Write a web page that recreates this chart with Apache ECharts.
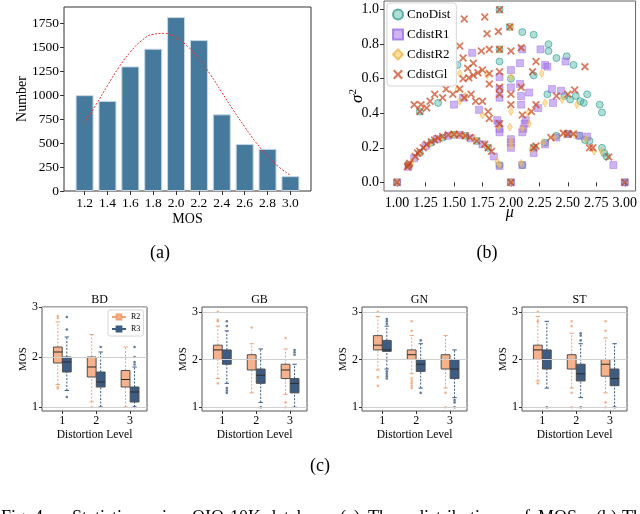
<!DOCTYPE html>
<html>
<head>
<meta charset="utf-8">
<script src="https://cdn.jsdelivr.net/npm/echarts@6/dist/echarts.min.js"></script>
<style>
html, body { margin: 0; padding: 0; background: #fff; }
#chart { width: 640px; height: 514px; }
</style>
</head>
<body>
<div id="chart"></div>
<script>
// (a) MOS histogram
const mosBins = [ 1.2, 1.4, 1.6, 1.8, 2.0, 2.2, 2.4, 2.6, 2.8, 3.0 ];
const mosCounts = [ 1000, 940, 1300, 1485, 1815, 1575, 800, 490, 440, 155 ];
const fitX = [ 1.2, 1.3, 1.4, 1.5, 1.6, 1.7, 1.8, 1.9, 2.0, 2.1, 2.2, 2.3, 2.4, 2.5, 2.6, 2.7, 2.8, 2.9, 3.0 ];
const fitY = [ 715, 900, 1100, 1290, 1450, 1570, 1635, 1645, 1600, 1510, 1380, 1215, 1030, 845, 670, 505, 365, 250, 165 ];
const countTicks = [ 0, 250, 500, 750, 1000, 1250, 1500, 1750 ];

// (b) mean / variance scatter
const muTicks = [ 1, 1.25, 1.5, 1.75, 2, 2.25, 2.5, 2.75, 3 ];
const varTicks = [ 0, 0.2, 0.4, 0.6, 0.8, 1.0 ];
const cnoDist = [
	[ 1.0, 0.0 ], [ 1.1, 0.1 ], [ 1.2, 0.17 ], [ 1.3, 0.23 ], [ 1.4, 0.26 ], [ 1.5, 0.275 ], [ 1.6, 0.27 ],
	[ 1.7, 0.24 ], [ 1.8, 0.2 ], [ 1.9, 0.1 ], [ 2.0, 0.0 ], [ 2.1, 0.1 ], [ 2.2, 0.2 ], [ 2.3, 0.23 ],
	[ 2.4, 0.27 ], [ 2.5, 0.28 ], [ 2.6, 0.27 ], [ 2.65, 0.245 ], [ 2.69, 0.24 ], [ 2.8, 0.2 ], [ 2.82, 0.17 ],
	[ 2.84, 0.15 ], [ 3.0, 0.0 ], [ 1.2, 0.41 ], [ 1.36, 0.46 ], [ 1.45, 0.69 ], [ 1.53, 0.68 ], [ 1.9, 1.0 ],
	[ 1.99, 0.9 ], [ 2.1, 0.87 ], [ 2.2, 0.855 ], [ 1.9, 0.77 ], [ 1.9, 0.7 ], [ 2.33, 0.8 ], [ 2.33, 0.76 ],
	[ 2.4, 0.72 ], [ 2.49, 0.73 ], [ 2.55, 0.68 ], [ 2.32, 0.51 ], [ 2.47, 0.5 ], [ 2.52, 0.48 ], [ 2.57, 0.5 ],
	[ 2.61, 0.47 ], [ 2.64, 0.46 ], [ 2.67, 0.51 ], [ 2.78, 0.45 ], [ 2.8, 0.405 ], [ 2.0, 0.6 ], [ 2.2, 0.62 ]
];
const cdistR1 = [
	[ 1.0, 0.0 ], [ 1.1, 0.09 ], [ 1.15, 0.14 ], [ 1.25, 0.21 ], [ 1.35, 0.25 ], [ 1.45, 0.27 ], [ 1.55, 0.275 ],
	[ 1.65, 0.255 ], [ 1.75, 0.22 ], [ 1.85, 0.15 ], [ 1.9, 0.095 ], [ 1.9, 0.29 ], [ 1.9, 0.31 ], [ 1.89, 0.34 ],
	[ 1.88, 0.36 ], [ 2.0, 0.0 ], [ 2.0, 0.2 ], [ 2.0, 0.23 ], [ 2.0, 0.25 ], [ 2.1, 0.1 ], [ 2.1, 0.29 ],
	[ 2.11, 0.31 ], [ 2.12, 0.34 ], [ 2.13, 0.36 ], [ 2.2, 0.17 ], [ 2.3, 0.22 ], [ 2.4, 0.26 ], [ 2.5, 0.28 ],
	[ 2.6, 0.27 ], [ 2.67, 0.265 ], [ 2.9, 0.1 ], [ 3.0, 0.0 ], [ 1.5, 0.45 ], [ 1.58, 0.49 ], [ 1.72, 0.42 ],
	[ 1.9, 0.49 ], [ 1.9, 0.54 ], [ 2.0, 0.55 ], [ 2.0, 0.65 ], [ 2.08, 0.57 ], [ 2.09, 0.5 ], [ 2.09, 0.45 ],
	[ 2.16, 0.52 ], [ 2.24, 0.43 ], [ 2.36, 0.54 ], [ 2.37, 0.46 ], [ 2.44, 0.53 ], [ 2.08, 0.69 ], [ 2.26, 0.77 ],
	[ 2.3, 0.68 ], [ 2.32, 0.67 ], [ 2.48, 0.7 ], [ 2.1, 0.77 ], [ 1.66, 0.75 ], [ 1.9, 0.61 ]
];
const cdistR2 = [
	[ 1.0, 0.0 ], [ 1.1, 0.1 ], [ 1.13, 0.12 ], [ 1.2, 0.17 ], [ 1.28, 0.22 ], [ 1.38, 0.255 ], [ 1.48, 0.275 ],
	[ 1.52, 0.278 ], [ 1.58, 0.27 ], [ 1.68, 0.25 ], [ 1.78, 0.21 ], [ 1.88, 0.12 ], [ 1.9, 0.1 ], [ 1.89, 0.32 ],
	[ 2.0, 0.0 ], [ 2.0, 0.21 ], [ 2.0, 0.24 ], [ 1.99, 0.32 ], [ 2.0, 0.41 ], [ 2.0, 0.61 ], [ 2.0, 0.9 ],
	[ 2.09, 0.11 ], [ 2.1, 0.31 ], [ 2.16, 0.34 ], [ 2.18, 0.19 ], [ 2.28, 0.23 ], [ 2.38, 0.26 ], [ 2.47, 0.278 ],
	[ 2.56, 0.276 ], [ 2.66, 0.25 ], [ 2.73, 0.18 ], [ 2.8, 0.18 ], [ 1.55, 0.63 ], [ 1.53, 0.54 ], [ 1.55, 0.47 ],
	[ 1.75, 0.39 ], [ 1.9, 0.77 ], [ 2.27, 0.63 ], [ 2.45, 0.48 ], [ 2.58, 0.45 ], [ 2.3, 0.46 ], [ 1.79, 0.62 ],
	[ 1.6, 0.5 ], [ 2.15, 0.4 ]
];
const cdistGl = [
	[ 1.0, 0.0 ], [ 1.09, 0.09 ], [ 1.1, 0.1 ], [ 1.11, 0.11 ], [ 1.16, 0.15 ], [ 1.18, 0.17 ], [ 1.2, 0.18 ],
	[ 1.23, 0.2 ], [ 1.26, 0.22 ], [ 1.3, 0.235 ], [ 1.33, 0.245 ], [ 1.36, 0.255 ], [ 1.4, 0.265 ], [ 1.45, 0.275 ],
	[ 1.5, 0.278 ], [ 1.55, 0.275 ], [ 1.6, 0.27 ], [ 1.64, 0.26 ], [ 1.7, 0.24 ], [ 1.77, 0.22 ], [ 1.8, 0.2 ],
	[ 1.83, 0.18 ], [ 2.0, 0.0 ], [ 2.2, 0.2 ], [ 2.22, 0.21 ], [ 2.35, 0.26 ], [ 2.46, 0.285 ], [ 2.5, 0.28 ],
	[ 2.55, 0.28 ], [ 2.69, 0.2 ], [ 2.72, 0.2 ], [ 2.86, 0.147 ], [ 3.0, 0.0 ],
	[ 1.15, 0.45 ], [ 1.2, 0.41 ], [ 1.21, 0.45 ], [ 1.26, 0.43 ], [ 1.29, 0.47 ], [ 1.33, 0.51 ], [ 1.4, 0.49 ],
	[ 1.43, 0.54 ], [ 1.49, 0.51 ], [ 1.55, 0.54 ], [ 1.59, 0.49 ], [ 1.65, 0.51 ], [ 1.69, 0.47 ], [ 1.75, 0.47 ],
	[ 1.8, 0.41 ], [ 1.81, 0.37 ], [ 1.9, 0.51 ], [ 1.9, 0.34 ], [ 2.0, 0.51 ], [ 2.0, 0.45 ], [ 2.1, 0.39 ],
	[ 2.18, 0.41 ], [ 2.22, 0.45 ], [ 2.4, 0.5 ], [ 2.5, 0.51 ], [ 2.56, 0.535 ],
	[ 1.59, 0.946 ], [ 1.77, 0.957 ], [ 1.9, 1.0 ], [ 1.79, 0.86 ], [ 1.89, 0.874 ], [ 1.99, 0.9 ], [ 1.55, 0.79 ],
	[ 1.49, 0.74 ], [ 1.39, 0.72 ], [ 1.58, 0.72 ], [ 1.67, 0.69 ], [ 1.74, 0.76 ], [ 1.81, 0.77 ], [ 1.9, 0.77 ],
	[ 2.0, 0.76 ], [ 2.09, 0.78 ], [ 1.62, 0.66 ], [ 1.58, 0.6 ], [ 1.63, 0.605 ], [ 1.67, 0.62 ], [ 1.71, 0.635 ],
	[ 1.75, 0.65 ], [ 1.81, 0.63 ], [ 1.81, 0.57 ], [ 1.9, 0.64 ], [ 1.9, 0.55 ], [ 2.09, 0.55 ], [ 2.19, 0.64 ],
	[ 2.22, 0.7 ], [ 2.65, 0.67 ]
];

// (c) box plots per distortion type: [low whisker, q1, median, q3, high whisker] for levels 1..3
const panelNames = [ 'BD', 'GB', 'GN', 'ST' ];
const levels = [ 1, 2, 3 ];
const mosTicks = [ 1, 2, 3 ];
const bdR2 = [ [ 1.45, 1.88, 2.1, 2.2, 2.7 ], [ 1.1, 1.6, 1.8, 2.0, 2.45 ], [ 1.0, 1.4, 1.55, 1.73, 2.2 ] ];
const bdR3 = [ [ 1.33, 1.7, 1.9, 2.0, 2.4 ], [ 1.0, 1.4, 1.5, 1.7, 2.1 ], [ 1.0, 1.1, 1.3, 1.4, 1.8 ] ];
const gbR2 = [ [ 1.6, 2.0, 2.2, 2.3, 2.7 ], [ 1.3, 1.78, 2.0, 2.1, 2.33 ], [ 1.27, 1.6, 1.78, 1.9, 2.22 ] ];
const gbR3 = [ [ 1.5, 1.9, 2.0, 2.2, 2.6 ], [ 1.1, 1.5, 1.67, 1.8, 2.22 ], [ 1.0, 1.3, 1.5, 1.6, 1.9 ] ];
const gnR2 = [ [ 1.78, 2.2, 2.3, 2.5, 2.9 ], [ 1.7, 2.0, 2.1, 2.2, 2.5 ], [ 1.4, 1.8, 2.0, 2.1, 2.5 ] ];
const gnR3 = [ [ 1.8, 2.17, 2.2, 2.4, 2.7 ], [ 1.4, 1.75, 1.9, 2.0, 2.33 ], [ 1.2, 1.6, 1.8, 2.0, 2.2 ] ];
const stR2 = [ [ 1.55, 2.0, 2.2, 2.3, 2.9 ], [ 1.4, 1.8, 2.0, 2.1, 2.55 ], [ 1.3, 1.65, 1.9, 2.0, 2.45 ] ];
const stR3 = [ [ 1.4, 1.8, 2.0, 2.2, 2.8 ], [ 1.2, 1.55, 1.7, 1.9, 2.33 ], [ 1.0, 1.45, 1.6, 1.8, 2.33 ] ];
// outliers: [level, MOS]
const bdR2Out = [ [ 1, 1.4 ], [ 1, 1.37 ], [ 1, 2.78 ], [ 1, 2.82 ], [ 2, 1.0 ] ];
const bdR3Out = [ [ 1, 1.2 ], [ 1, 2.55 ], [ 1, 2.8 ], [ 2, 2.2 ], [ 3, 1.85 ], [ 3, 1.9 ], [ 3, 2.0 ], [ 3, 2.2 ], [ 3, 1.0 ] ];
const gbR2Out = [ [ 1, 1.5 ], [ 1, 2.8 ], [ 1, 2.83 ], [ 1, 3.0 ], [ 2, 2.67 ], [ 3, 1.0 ], [ 3, 1.1 ], [ 3, 2.45 ] ];
const gbR3Out = [ [ 1, 1.3 ], [ 1, 1.35 ], [ 1, 1.4 ], [ 1, 2.7 ], [ 1, 2.8 ], [ 2, 1.0 ], [ 3, 2.1 ], [ 3, 2.15 ], [ 3, 2.2 ] ];
const gnR2Out = [ [ 1, 1.45 ], [ 1, 1.63 ], [ 1, 3.0 ], [ 2, 1.4 ], [ 2, 1.45 ], [ 2, 1.5 ], [ 2, 1.55 ], [ 2, 1.6 ], [ 2, 2.6 ], [ 2, 2.8 ], [ 3, 1.0 ], [ 3, 1.3 ] ];
const gnR3Out = [ [ 1, 1.6 ], [ 1, 1.65 ], [ 1, 1.7 ], [ 1, 1.75 ], [ 1, 2.75 ], [ 1, 2.8 ], [ 1, 2.85 ], [ 2, 1.3 ], [ 2, 2.4 ], [ 3, 1.0 ], [ 3, 1.1 ], [ 3, 1.15 ] ];
const stR2Out = [ [ 1, 1.5 ], [ 1, 2.8 ], [ 1, 3.0 ], [ 2, 1.0 ], [ 2, 1.3 ], [ 2, 2.7 ], [ 2, 2.8 ], [ 3, 1.0 ], [ 3, 1.1 ], [ 3, 2.6 ], [ 3, 2.8 ] ];
const stR3Out = [ [ 1, 1.0 ], [ 2, 1.0 ], [ 2, 2.4 ], [ 2, 2.5 ], [ 2, 2.55 ], [ 3, 1.0 ] ];

const boxR2 = [ bdR2, gbR2, gnR2, stR2 ];
const boxR3 = [ bdR3, gbR3, gnR3, stR3 ];
const outR2 = [ bdR2Out, gbR2Out, gnR2Out, stR2Out ];
const outR3 = [ bdR3Out, gbR3Out, gnR3Out, stR3Out ];
const mosTop = [ 3.0, 3.1, 3.1, 3.1 ];

// caption words, justified across the column: [word, left x]
const captionWords = [
	[ 'Fig. 4.', 1 ], [ 'Statistics', 72 ], [ 'in', 162 ], [ 'OIQ-10K', 192 ], [ 'database.', 267 ],
	[ '(a)', 340 ], [ 'The', 368 ], [ 'distribution', 415 ], [ 'of', 515 ], [ 'MOSs.', 538 ],
	[ '(b)', 596 ], [ 'The', 622 ]
];

const FONT = 'Liberation Serif';
const R2_FILL = '#f4b38c';
const R2_LINE = '#f0a276';
const R3_FILL = '#3d5c83';
const R3_LINE = '#3d5c83';
const BOX_W = 0.26;
const HUE_SHIFT = 0.133;
const crossSymbol = 'path://M0,1.6L1.6,0L5,3.4L8.4,0L10,1.6L6.6,5L10,8.4L8.4,10L5,6.6L1.6,10L0,8.4L3.4,5Z';

const chart = echarts.init( document.getElementById( 'chart' ), null, { renderer: 'canvas' } );

const tickLabel = ( size ) => ( { color: '#000', fontFamily: FONT, fontSize: size } );

const renderBox = ( fill, whisker ) => ( params, api ) => {
	const x = api.value( 0 );
	const lo = api.coord( [ x, api.value( 1 ) ] );
	const q1 = api.coord( [ x, api.value( 2 ) ] );
	const md = api.coord( [ x, api.value( 3 ) ] );
	const q3 = api.coord( [ x, api.value( 4 ) ] );
	const hi = api.coord( [ x, api.value( 5 ) ] );
	const cx = lo[ 0 ];
	const w = api.size( [ BOX_W, 0 ] )[ 0 ];
	const cap = w * 0.5;
	const dash = { stroke: whisker, lineWidth: 1, lineDash: [ 2, 1.5 ] };
	const solid = { stroke: whisker, lineWidth: 1 };
	return {
		type: 'group',
		children: [
			{ type: 'line', shape: { x1: cx, y1: lo[ 1 ], x2: cx, y2: q1[ 1 ] }, style: dash },
			{ type: 'line', shape: { x1: cx, y1: q3[ 1 ], x2: cx, y2: hi[ 1 ] }, style: dash },
			{ type: 'line', shape: { x1: cx - cap / 2, y1: lo[ 1 ], x2: cx + cap / 2, y2: lo[ 1 ] }, style: solid },
			{ type: 'line', shape: { x1: cx - cap / 2, y1: hi[ 1 ], x2: cx + cap / 2, y2: hi[ 1 ] }, style: solid },
			{ type: 'rect', shape: { x: cx - w / 2, y: q3[ 1 ], width: w, height: q1[ 1 ] - q3[ 1 ] },
				style: { fill: fill, stroke: '#505050', lineWidth: 1 } },
			{ type: 'line', shape: { x1: cx - w / 2, y1: md[ 1 ], x2: cx + w / 2, y2: md[ 1 ] },
				style: { stroke: '#2a2a2a', lineWidth: 1 } }
		]
	};
};

const grids = [
	{ left: 64, top: 7, width: 247, height: 184, show: true, borderColor: '#333', borderWidth: 1 },
	{ left: 384, top: 1, width: 253, height: 190, show: true, borderColor: '#666', borderWidth: 1 }
];
const xAxes = [
	{
		gridIndex: 0, type: 'value', min: 1.02, max: 3.18,
		name: 'MOS', nameLocation: 'middle', nameGap: 21, nameMoveOverlap: false,
		nameTextStyle: tickLabel( 14 ),
		axisLine: { show: false },
		axisTick: { customValues: mosBins, length: 4, lineStyle: { color: '#333' } },
		axisLabel: Object.assign( { customValues: mosBins, margin: 5, formatter: ( v ) => v.toFixed( 1 ) }, tickLabel( 13.5 ) ),
		splitLine: { show: false }
	},
	{
		gridIndex: 1, type: 'value', min: 0.885, max: 3.095,
		name: 'μ', nameLocation: 'middle', nameGap: 14, nameMoveOverlap: false,
		nameTextStyle: Object.assign( { fontStyle: 'italic' }, tickLabel( 16 ) ),
		axisLine: { show: false },
		axisTick: { customValues: muTicks, length: 4, lineStyle: { color: '#333' } },
		axisLabel: Object.assign( { customValues: muTicks, margin: 5, formatter: ( v ) => v.toFixed( 2 ) }, tickLabel( 14 ) ),
		splitLine: { show: false }
	}
];
const yAxes = [
	{
		gridIndex: 0, type: 'value', min: 0, max: 1920,
		name: 'Number', nameLocation: 'middle', nameGap: 35, nameRotate: 90, nameMoveOverlap: false,
		nameTextStyle: tickLabel( 14 ),
		axisLine: { show: false },
		axisTick: { customValues: countTicks, length: 4, lineStyle: { color: '#333' } },
		axisLabel: Object.assign( { customValues: countTicks, margin: 5, formatter: ( v ) => String( v ) }, tickLabel( 13.5 ) ),
		splitLine: { show: false }
	},
	{
		gridIndex: 1, type: 'value', min: -0.05, max: 1.05,
		name: '{s|σ}{p|2}', nameLocation: 'middle', nameGap: 17, nameRotate: 90, nameMoveOverlap: false,
		nameTextStyle: {
			rich: {
				s: { fontFamily: FONT, fontStyle: 'italic', fontSize: 17, color: '#000' },
				p: { fontFamily: FONT, fontSize: 11, color: '#000', verticalAlign: 'top', padding: [ 0, 0, 8, 0 ] }
			}
		},
		axisLine: { show: false },
		axisTick: { customValues: varTicks, length: 4, lineStyle: { color: '#333' } },
		axisLabel: Object.assign( { customValues: varTicks, margin: 5, formatter: ( v ) => v.toFixed( 1 ) }, tickLabel( 14 ) ),
		splitLine: { show: false }
	}
];
const titles = [];
const series = [
	{
		name: 'counts', type: 'bar', xAxisIndex: 0, yAxisIndex: 0,
		data: mosBins.map( ( m, i ) => [ m, mosCounts[ i ] ] ),
		barWidth: 18,
		itemStyle: { color: '#467a9c', borderColor: '#c7d7e4', borderWidth: 1 }
	},
	{
		name: 'fit', type: 'line', xAxisIndex: 0, yAxisIndex: 0,
		data: fitX.map( ( m, i ) => [ m, fitY[ i ] ] ),
		smooth: true, showSymbol: false, z: 5,
		lineStyle: { color: '#e8332a', width: 1, type: [ 2, 1.5 ] }
	},
	{
		name: 'CnoDist', type: 'scatter', xAxisIndex: 1, yAxisIndex: 1, data: cnoDist,
		symbol: 'circle', symbolSize: 7,
		itemStyle: { color: 'rgba(70,180,165,0.55)', borderColor: 'rgba(40,150,135,0.9)', borderWidth: 0.8 }
	},
	{
		name: 'CdistR1', type: 'scatter', xAxisIndex: 1, yAxisIndex: 1, data: cdistR1,
		symbol: 'rect', symbolSize: 7,
		itemStyle: { color: 'rgba(150,100,228,0.6)', borderColor: 'rgba(150,100,228,0.9)', borderWidth: 0.6 }
	},
	{
		name: 'CdistR2', type: 'scatter', xAxisIndex: 1, yAxisIndex: 1, data: cdistR2,
		symbol: 'diamond', symbolSize: [ 5, 8 ],
		itemStyle: { color: 'rgba(250,195,85,0.65)', borderColor: 'rgba(240,175,60,0.9)', borderWidth: 0.6 }
	},
	{
		name: 'CdistGl', type: 'scatter', xAxisIndex: 1, yAxisIndex: 1, data: cdistGl,
		symbol: crossSymbol, symbolSize: 8,
		itemStyle: { color: 'rgba(200,68,28,0.88)' }
	}
];

panelNames.forEach( ( name, p ) => {
	const g = p + 2;
	const left = 42 + p * 160;
	grids.push( { left: left, top: 307, width: 105, height: 104, show: true, borderColor: '#555', borderWidth: 1 } );
	xAxes.push( {
		gridIndex: g, type: 'value', min: 0.4, max: 3.5,
		name: 'Distortion Level', nameLocation: 'middle', nameGap: 18, nameMoveOverlap: false,
		nameTextStyle: tickLabel( 11.5 ),
		axisLine: { show: false },
		axisTick: { customValues: levels, length: 3, lineStyle: { color: '#333' } },
		axisLabel: Object.assign( { customValues: levels, margin: 4 }, tickLabel( 12 ) ),
		splitLine: { show: false }
	} );
	yAxes.push( {
		gridIndex: g, type: 'value', min: 0.92, max: mosTop[ p ],
		name: 'MOS', nameLocation: 'middle', nameGap: 13, nameRotate: 90, nameMoveOverlap: false,
		nameTextStyle: tickLabel( 11 ),
		axisLine: { show: false },
		axisTick: { customValues: mosTicks, length: 3, lineStyle: { color: '#333' } },
		axisLabel: Object.assign( { customValues: mosTicks, margin: 4 }, tickLabel( 12 ) ),
		splitLine: { show: false }
	} );
	titles.push( {
		text: name, left: left + 52.5, top: 289, textAlign: 'center',
		textStyle: { fontFamily: FONT, fontSize: 12, fontWeight: 'normal', color: '#000' }
	} );
	// horizontal reference lines at each MOS tick
	series.push( {
		name: name + '-grid', type: 'scatter', xAxisIndex: g, yAxisIndex: g, data: [], z: 1,
		markLine: {
			silent: true, symbol: 'none', label: { show: false }, animation: false,
			lineStyle: { color: '#d0d0d0', width: 1, type: 'solid' },
			data: mosTicks.map( ( t ) => ( { yAxis: t } ) )
		}
	} );
	[ [ boxR2[ p ], outR2[ p ], -HUE_SHIFT, R2_FILL, R2_LINE, 'R2' ],
		[ boxR3[ p ], outR3[ p ], HUE_SHIFT, R3_FILL, R3_LINE, 'R3' ] ].forEach( ( [ box, out, shift, fill, line, tag ] ) => {
		series.push( {
			name: name + '-' + tag, type: 'custom', xAxisIndex: g, yAxisIndex: g, z: 3,
			data: box.map( ( b, i ) => [ levels[ i ] + shift ].concat( b ) ),
			encode: { x: 0, y: [ 1, 2, 3, 4, 5 ] },
			renderItem: renderBox( fill, line )
		} );
		series.push( {
			name: name + '-' + tag + '-out', type: 'scatter', xAxisIndex: g, yAxisIndex: g, z: 4,
			data: out.map( ( o ) => [ o[ 0 ] + shift, o[ 1 ] ] ),
			symbol: 'circle', symbolSize: 2.6,
			itemStyle: { color: line }
		} );
	} );
} );

// legend entries for the box plots
series.push( {
	name: 'R2', type: 'line', xAxisIndex: 2, yAxisIndex: 2, data: [],
	symbol: 'rect', symbolSize: 5,
	itemStyle: { color: R2_FILL, borderColor: R2_LINE, borderWidth: 1 },
	lineStyle: { color: R2_LINE, width: 1.2 }
} );
series.push( {
	name: 'R3', type: 'line', xAxisIndex: 2, yAxisIndex: 2, data: [],
	symbol: 'rect', symbolSize: 5,
	itemStyle: { color: R3_FILL, borderColor: R3_LINE, borderWidth: 1 },
	lineStyle: { color: R3_LINE, width: 1.2 }
} );

const graphics = [
	{ type: 'text', x: 160, y: 244, style: { text: '(a)', fill: '#000', font: '18px "' + FONT + '"', align: 'center' } },
	{ type: 'text', x: 487, y: 244, style: { text: '(b)', fill: '#000', font: '18px "' + FONT + '"', align: 'center' } },
	{ type: 'text', x: 320, y: 457, style: { text: '(c)', fill: '#000', font: '18px "' + FONT + '"', align: 'center' } }
];
captionWords.forEach( ( [ word, x ] ) => {
	graphics.push( { type: 'text', x: x, y: 509, style: { text: word, fill: '#000', font: '18px "' + FONT + '"' } } );
} );

chart.setOption( {
	animation: false,
	backgroundColor: '#fff',
	grid: grids,
	xAxis: xAxes,
	yAxis: yAxes,
	title: titles,
	legend: [
		{
			data: [ 'CnoDist', 'CdistR1', 'CdistR2', 'CdistGl' ],
			orient: 'vertical', left: 387, top: 3,
			itemWidth: 10, itemHeight: 10, itemGap: 7,
			backgroundColor: '#fff', borderColor: '#d6d6d6', borderWidth: 1, borderRadius: 3,
			padding: [ 5, 6, 5, 5 ],
			textStyle: { fontFamily: FONT, fontSize: 13, color: '#000', padding: [ 0, 0, 0, -1 ] },
			selectedMode: false
		},
		{
			data: [ 'R2', 'R3' ],
			orient: 'vertical', left: 108, top: 310,
			itemWidth: 14, itemHeight: 6, itemGap: 4,
			backgroundColor: '#fff', borderColor: '#d6d6d6', borderWidth: 1, borderRadius: 2,
			padding: [ 3, 3, 3, 3 ],
			textStyle: { fontFamily: FONT, fontSize: 8, color: '#000' },
			selectedMode: false
		}
	],
	graphic: graphics,
	series: series
} );
</script>
</body>
</html>
